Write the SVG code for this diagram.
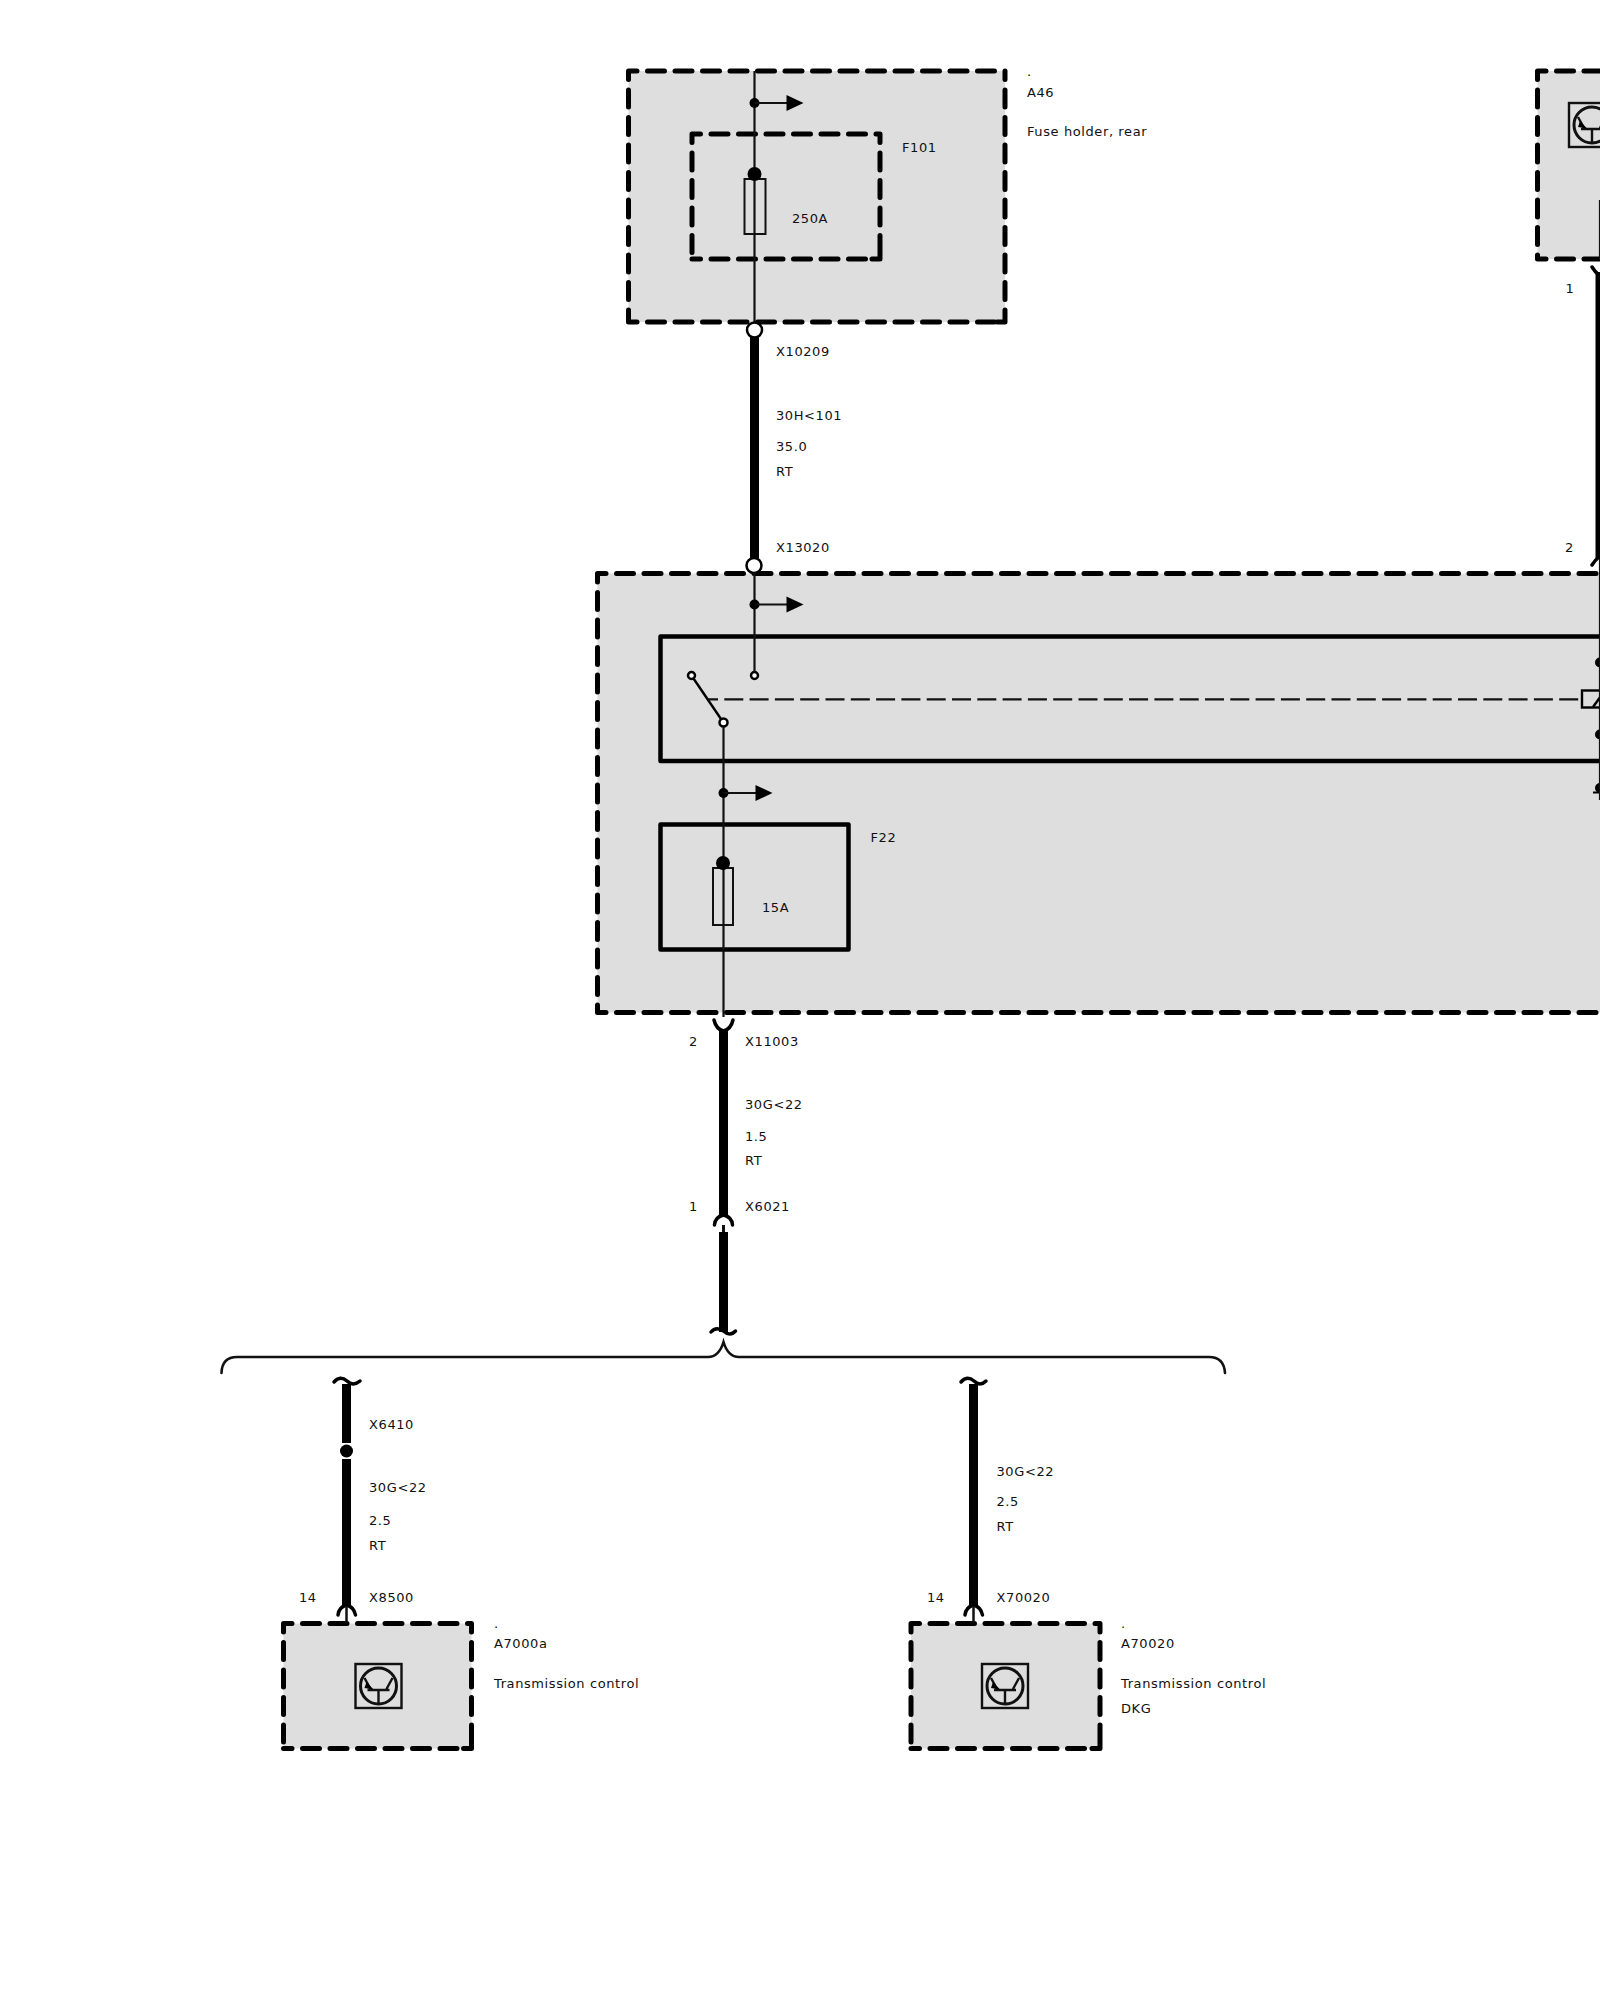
<svg xmlns="http://www.w3.org/2000/svg" width="1600" height="2000" viewBox="0 0 1600 2000">
<style>
text{font-family:"DejaVu Sans","Liberation Sans",sans-serif;font-size:13px;letter-spacing:.6px;fill:#111}
.fill{fill:#dedede;stroke:none}
.dash{fill:none;stroke:#000;stroke-width:5;stroke-dasharray:17 10.500;stroke-dashoffset:8.500;stroke-linecap:round}
.solid{fill:none;stroke:#000;stroke-width:4.500;stroke-linejoin:round}
.w{fill:none;stroke:#111;stroke-width:2.200}
.t{fill:none;stroke:#000;stroke-width:9}
.c{fill:none;stroke:#000;stroke-width:3.500;stroke-linecap:round}
.b{fill:none;stroke:#111;stroke-width:2.600;stroke-linecap:round}
.fuse{fill:none;stroke:#111;stroke-width:2}
.o{fill:#fff;stroke:#000;stroke-width:2.500}
.ic{fill:none;stroke:#111;stroke-width:2.400}
</style>
<defs>
<g id="trans">
<rect class="ic" x="-23" y="-22" width="46" height="44"/>
<circle class="ic" cx="0" cy="0" r="18" style="stroke-width:3"/>
<path class="ic" d="M-11 4H11M0 4V17M-14 -8L-8 3M8 3L14 -8"/>
<path d="M-12 -4L-5 3.500L-14 2Z" fill="#000"/>
</g>
<g id="tap">
<circle r="5" fill="#000"/>
<path class="w" d="M0 0H33"/>
<path d="M32 -8L49 0L32 8Z" fill="#000"/>
</g>
</defs>

<g id="node-A46">
<rect class="fill" x="628.500" y="71" width="376.500" height="251"/>
<path class="dash" d="M628.500 71H1005M628.500 71V322M628.500 322H1005M1005 71V322M1005 322H997M1005 322V314"/>
<text x="1027" y="75.500">.</text>
<text x="1027" y="97">A46</text>
<text x="1027" y="136">Fuse holder, rear</text>
</g>
<g id="node-F101">
<path class="dash" d="M692 134H880M692 134V259M692 259H880M880 134V259M880 259H872M880 259V251"/>
<rect class="fuse" x="744.500" y="179" width="21" height="55"/>
<text x="902" y="152">F101</text>
<text x="792" y="223">250A</text>
</g>
<g id="node-right-top">
<rect class="fill" x="1537.500" y="71" width="70" height="188"/>
<path class="dash" d="M1537.500 71H1610M1537.500 71V259M1537.500 259H1610"/>
<use href="#trans" x="1592" y="125"/>
</g>
<g id="node-main">
<rect class="fill" x="597.500" y="573.500" width="1010" height="439"/>
<path class="dash" d="M597.500 573.500H1610M597.500 573.500V1012.500M597.500 1012.500H1610"/>
<path class="solid" d="M1610 636.500H660.500V761H1610"/>
<path d="M693.500 678.500L721 719" stroke="#000" stroke-width="2.400"/>
<circle class="o" cx="691.500" cy="675.500" r="3.500"/>
<circle class="o" cx="723.500" cy="722.500" r="4"/>
<circle class="o" cx="754.500" cy="675.500" r="3.500"/>
<path d="M708 699.300H1582" stroke="#111" stroke-width="2.200" stroke-dasharray="19 6.300" stroke-dashoffset="9" fill="none"/>
<rect x="1582" y="690.500" width="24" height="17" fill="none" stroke="#000" stroke-width="2.400"/>
<path d="M1593 707L1601 696" stroke="#000" stroke-width="2.400"/>
<circle cx="1600" cy="662.500" r="5"/>
<circle cx="1600" cy="734.500" r="5"/>
<circle cx="1600" cy="788" r="5"/>
<path d="M1593 792.500H1606" stroke="#000" stroke-width="2"/>
<text x="776" y="552.300" id="label-X13020">X13020</text>
</g>
<g id="node-F22">
<rect class="solid" x="660.500" y="824.500" width="188" height="125"/>
<rect class="fuse" x="713" y="868" width="20" height="57"/>
<text x="870.500" y="842">F22</text>
<text x="762" y="912">15A</text>
</g>
<g id="node-A7000a">
<rect class="fill" x="283.500" y="1623.500" width="188" height="125"/>
<path class="dash" d="M283.500 1623.500H471.500M283.500 1623.500V1748.500M283.500 1748.500H471.500M471.500 1623.500V1748.500M471.500 1748.500H463.500M471.500 1748.500V1740.500"/>
<use href="#trans" x="378.500" y="1686"/>
<text x="494" y="1628">.</text>
<text x="494" y="1648">A7000a</text>
<text x="494" y="1688">Transmission control</text>
</g>
<g id="node-A70020">
<rect class="fill" x="911" y="1623.500" width="189" height="125"/>
<path class="dash" d="M911 1623.500H1100M911 1623.500V1748.500M911 1748.500H1100M1100 1623.500V1748.500M1100 1748.500H1092M1100 1748.500V1740.500"/>
<use href="#trans" x="1005" y="1686"/>
<text x="1121" y="1628">.</text>
<text x="1121" y="1648">A70020</text>
<text x="1121" y="1688">Transmission control</text>
<text x="1121" y="1713">DKG</text>
</g>

<g id="connectors">
<path class="w" d="M754.500 71V322"/>
<use href="#tap" x="754.500" y="103"/>
<circle cx="754.500" cy="174" r="7" fill="#000"/>
<path class="t" d="M754.500 337V560"/>
<circle class="o" cx="754.500" cy="330" r="7.500"/>
<circle class="o" cx="754" cy="565.500" r="7.500"/>
<path class="w" d="M754.500 573V672"/>
<use href="#tap" x="754.500" y="604.500"/>
<path class="w" d="M723.500 726V1017"/>
<use href="#tap" x="723.500" y="793"/>
<circle cx="723" cy="863" r="7" fill="#000"/>
<path class="c" d="M714 1020Q716 1029 723.500 1031Q731 1029 733 1020"/>
<path class="t" d="M723.500 1030V1216"/>
<path class="c" d="M714.500 1225Q715 1217 723.500 1215Q732 1217 732.500 1225"/>
<path class="w" style="stroke-width:3" d="M723.500 1225V1232"/>
<path class="t" d="M723.500 1232V1332"/>
<path class="c" d="M711 1332Q716 1326 723.500 1331Q730 1337 735.500 1331"/>
<path class="b" d="M221.500 1373Q222 1357 237 1357H708Q719 1357 723.500 1342Q728 1357 739 1357H1209Q1224 1357 1225 1373"/>
<path class="c" d="M334 1382Q340 1375 347 1381Q353 1387 360 1381"/>
<path class="t" d="M346.500 1384V1443M346.500 1459V1606"/>
<circle cx="346.500" cy="1451" r="6.500" fill="#000"/>
<path class="c" d="M338 1615Q339 1607 346.500 1605Q354 1607 355.500 1615"/>
<path class="w" style="stroke-width:2.500" d="M346.500 1606V1623"/>
<path class="c" d="M961 1382Q967 1375 974 1381Q980 1387 986 1381"/>
<path class="t" d="M973.500 1384V1606"/>
<path class="c" d="M965 1615Q966 1607 973.500 1605Q981 1607 982.500 1615"/>
<path class="w" style="stroke-width:2.500" d="M973.500 1606V1623"/>
<path class="w" d="M1600 200V260M1600 550V800"/>
<path class="c" d="M1592 267Q1595 272 1600 276Q1605 272 1608 267"/>
<path class="t" d="M1600 272V558"/>
<path class="c" d="M1592 565Q1595 560 1600 556Q1605 560 1608 565"/>
</g>

<g id="labels">
<text x="776" y="356">X10209</text>
<text x="776" y="419.500">30H&lt;101</text>
<text x="776" y="451">35.0</text>
<text x="776" y="475.500">RT</text>
<text x="689" y="1045.500">2</text>
<text x="745" y="1045.500">X11003</text>
<text x="745" y="1109">30G&lt;22</text>
<text x="745" y="1141">1.5</text>
<text x="745" y="1165">RT</text>
<text x="689" y="1210.500">1</text>
<text x="745" y="1210.500">X6021</text>
<text x="369" y="1429">X6410</text>
<text x="369" y="1492">30G&lt;22</text>
<text x="369" y="1524.500">2.5</text>
<text x="369" y="1550">RT</text>
<text x="299" y="1602">14</text>
<text x="369" y="1602">X8500</text>
<text x="996.500" y="1475.500">30G&lt;22</text>
<text x="996.500" y="1506">2.5</text>
<text x="996.500" y="1531">RT</text>
<text x="927" y="1602">14</text>
<text x="996.500" y="1602">X70020</text>
<text x="1565.500" y="293">1</text>
<text x="1565" y="551.500">2</text>
</g>
</svg>
